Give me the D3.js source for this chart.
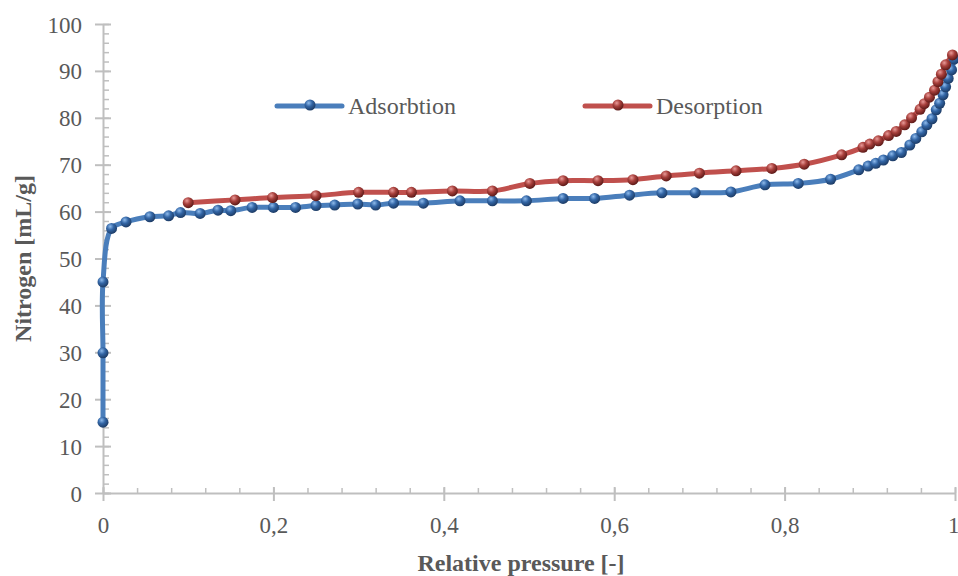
<!DOCTYPE html>
<html>
<head>
<meta charset="utf-8">
<script src="https://cdn.jsdelivr.net/npm/d3@7"></script>
<style>
  body { margin: 0; background: #fff; }
  svg { display: block; }
  .tick text { font-family: "Liberation Serif", "Times New Roman", serif; fill: #595959; }
</style>
</head>
<body>
<svg id="chart" width="958" height="576"></svg>
<script>
// adsorption branch
const adsX = [0, 0, 0, 0.010, 0.027, 0.055, 0.077, 0.091, 0.114, 0.135, 0.150, 0.175, 0.200, 0.226, 0.250,
  0.272, 0.299, 0.320, 0.341, 0.376, 0.419, 0.457, 0.497, 0.540, 0.577, 0.618, 0.656, 0.695, 0.737, 0.777,
  0.816, 0.854, 0.887, 0.898, 0.907, 0.916, 0.927, 0.937, 0.947, 0.954, 0.961, 0.967, 0.973, 0.978, 0.982,
  0.986, 0.989, 0.992, 0.996, 0.999];
const adsY = [15.1, 29.9, 45.0, 56.4, 57.8, 58.9, 59.1, 59.8, 59.6, 60.3, 60.2, 60.9, 60.9, 60.9, 61.3,
  61.4, 61.6, 61.4, 61.8, 61.8, 62.3, 62.3, 62.3, 62.8, 62.8, 63.5, 64.0, 64.0, 64.2, 65.7,
  66.0, 66.9, 68.9, 69.7, 70.3, 71.0, 71.9, 72.6, 74.2, 75.6, 77.0, 78.5, 79.8, 81.7, 83.1,
  84.9, 86.6, 88.4, 90.2, 92.5];

// desorption branch
const desX = [0.100, 0.155, 0.199, 0.250, 0.300, 0.341, 0.362, 0.410, 0.457, 0.501, 0.540, 0.581, 0.622,
  0.661, 0.700, 0.743, 0.785, 0.823, 0.867, 0.892, 0.900, 0.910, 0.922, 0.931, 0.941, 0.949, 0.959,
  0.964, 0.970, 0.976, 0.980, 0.984, 0.989, 0.997];
const desY = [61.9, 62.5, 63.0, 63.4, 64.1, 64.1, 64.1, 64.4, 64.4, 66.0, 66.6, 66.6, 66.8,
  67.6, 68.2, 68.7, 69.2, 70.1, 72.1, 73.7, 74.4, 75.1, 76.2, 77.1, 78.5, 80.0, 81.8,
  83.0, 84.4, 85.9, 87.7, 89.3, 91.3, 93.4];

const xTicks = [0, 0.2, 0.4, 0.6, 0.8, 1];
const xTickLabels = ["0", "0,2", "0,4", "0,6", "0,8", "1"];
const yTicks = [0, 10, 20, 30, 40, 50, 60, 70, 80, 90, 100];

const seriesNames = ["Adsorbtion", "Desorption"];

const width = 958, height = 576;
const margin = { top: 24, right: 3, bottom: 83, left: 103 };
const fontFam = '"Liberation Serif", "Times New Roman", serif';
const axisColor = "#bfbfbf";
const textColor = "#595959";

const series = [
  { name: seriesNames[0], xs: adsX, ys: adsY, line: "#4a7ebb", base: "#3366a6", hi: "#8fbbec", dark: "#1c3a63", id: "gBlue" },
  { name: seriesNames[1], xs: desX, ys: desY, line: "#c0504d", base: "#a8403c", hi: "#e99a98", dark: "#5a1816", id: "gRed" }
];

const svg = d3.select("#chart");

const x = d3.scaleLinear().domain([0, 1]).range([margin.left, width - margin.right]);
const y = d3.scaleLinear().domain([0, 100]).range([height - margin.bottom, margin.top]);

// sphere-like marker gradients
const defs = svg.append("defs");
series.forEach(s => {
  const g = defs.append("radialGradient").attr("id", s.id)
    .attr("cx", "38%").attr("cy", "32%").attr("r", "70%");
  g.append("stop").attr("offset", "0%").attr("stop-color", s.hi);
  g.append("stop").attr("offset", "45%").attr("stop-color", s.base);
  g.append("stop").attr("offset", "100%").attr("stop-color", s.dark);
});

// minor ticks
svg.append("g")
  .attr("transform", `translate(${margin.left},0)`)
  .call(d3.axisLeft(y).tickValues(d3.range(0, 101, 2)).tickSize(-6).tickFormat(""))
  .call(g => g.select(".domain").remove())
  .call(g => g.selectAll("line").attr("stroke", axisColor).attr("stroke-width", 1.5));

svg.append("g")
  .attr("transform", `translate(0,${height - margin.bottom})`)
  .call(d3.axisBottom(x).tickValues(d3.range(0, 1.001, 0.04)).tickSize(-5).tickFormat(""))
  .call(g => g.select(".domain").remove())
  .call(g => g.selectAll("line").attr("stroke", axisColor).attr("stroke-width", 1.5));

// major axes
const yAxis = svg.append("g")
  .attr("transform", `translate(${margin.left},0)`)
  .call(d3.axisLeft(y).tickValues(yTicks).tickSize(8).tickPadding(13).tickSizeOuter(0));
yAxis.select(".domain").attr("stroke", axisColor).attr("stroke-width", 2);
yAxis.selectAll(".tick line").attr("stroke", axisColor).attr("stroke-width", 2).attr("x1", 8);
yAxis.selectAll(".tick text").style("font-size", "23px").attr("dy", "0.35em");

const xAxis = svg.append("g")
  .attr("transform", `translate(0,${height - margin.bottom})`)
  .call(d3.axisBottom(x).tickValues(xTicks).tickFormat((d, i) => xTickLabels[i]).tickSize(8).tickPadding(16).tickSizeOuter(0));
xAxis.select(".domain").attr("stroke", axisColor).attr("stroke-width", 2);
xAxis.selectAll(".tick line").attr("stroke", axisColor).attr("stroke-width", 2).attr("y1", -6);
xAxis.selectAll(".tick text").style("font-size", "23px");
// keep the last label inside the page
xAxis.selectAll(".tick text").filter(d => d === 1).attr("text-anchor", "end").attr("dx", 4);

// axis titles
svg.append("text")
  .attr("x", (margin.left + width - margin.right) / 2 - 8)
  .attr("y", 571)
  .attr("text-anchor", "middle")
  .style("font-family", fontFam).style("font-weight", "bold").style("font-size", "24px")
  .attr("fill", textColor)
  .text("Relative pressure [-]");

svg.append("text")
  .attr("transform", `translate(31,${(margin.top + height - margin.bottom) / 2}) rotate(-90)`)
  .attr("text-anchor", "middle")
  .style("font-family", fontFam).style("font-weight", "bold").style("font-size", "24px")
  .attr("fill", textColor)
  .text("Nitrogen [mL/g]");

// lines and markers
const line = d3.line().x(d => x(d[0])).y(d => y(d[1])).curve(d3.curveCatmullRom.alpha(0.5));

series.forEach(s => {
  const pts = s.xs.map((v, i) => [v, s.ys[i]]);
  svg.append("path")
    .datum(pts)
    .attr("d", line)
    .attr("fill", "none")
    .attr("stroke", s.line)
    .attr("stroke-width", 5)
    .attr("stroke-linejoin", "round")
    .attr("stroke-linecap", "round");
});
series.forEach(s => {
  const pts = s.xs.map((v, i) => [v, s.ys[i]]);
  svg.append("g").selectAll("circle")
    .data(pts)
    .enter()
    .append("circle")
    .attr("cx", d => x(d[0]))
    .attr("cy", d => y(d[1]))
    .attr("r", 5.5)
    .attr("fill", `url(#${s.id})`);
});

// legend
const legendPos = [277, 585];
series.forEach((s, i) => {
  const lg = svg.append("g").attr("transform", `translate(${legendPos[i]},106)`);
  lg.append("line").attr("x1", 0).attr("x2", 65).attr("y1", 0).attr("y2", 0)
    .attr("stroke", s.line).attr("stroke-width", 5).attr("stroke-linecap", "round");
  lg.append("circle").attr("cx", 33).attr("cy", -1).attr("r", 5.5).attr("fill", `url(#${s.id})`);
  lg.append("text").attr("x", 71).attr("y", 0).attr("dy", "0.35em")
    .style("font-family", fontFam).style("font-size", "24px")
    .attr("fill", textColor)
    .text(s.name);
});
</script>
</body>
</html>
